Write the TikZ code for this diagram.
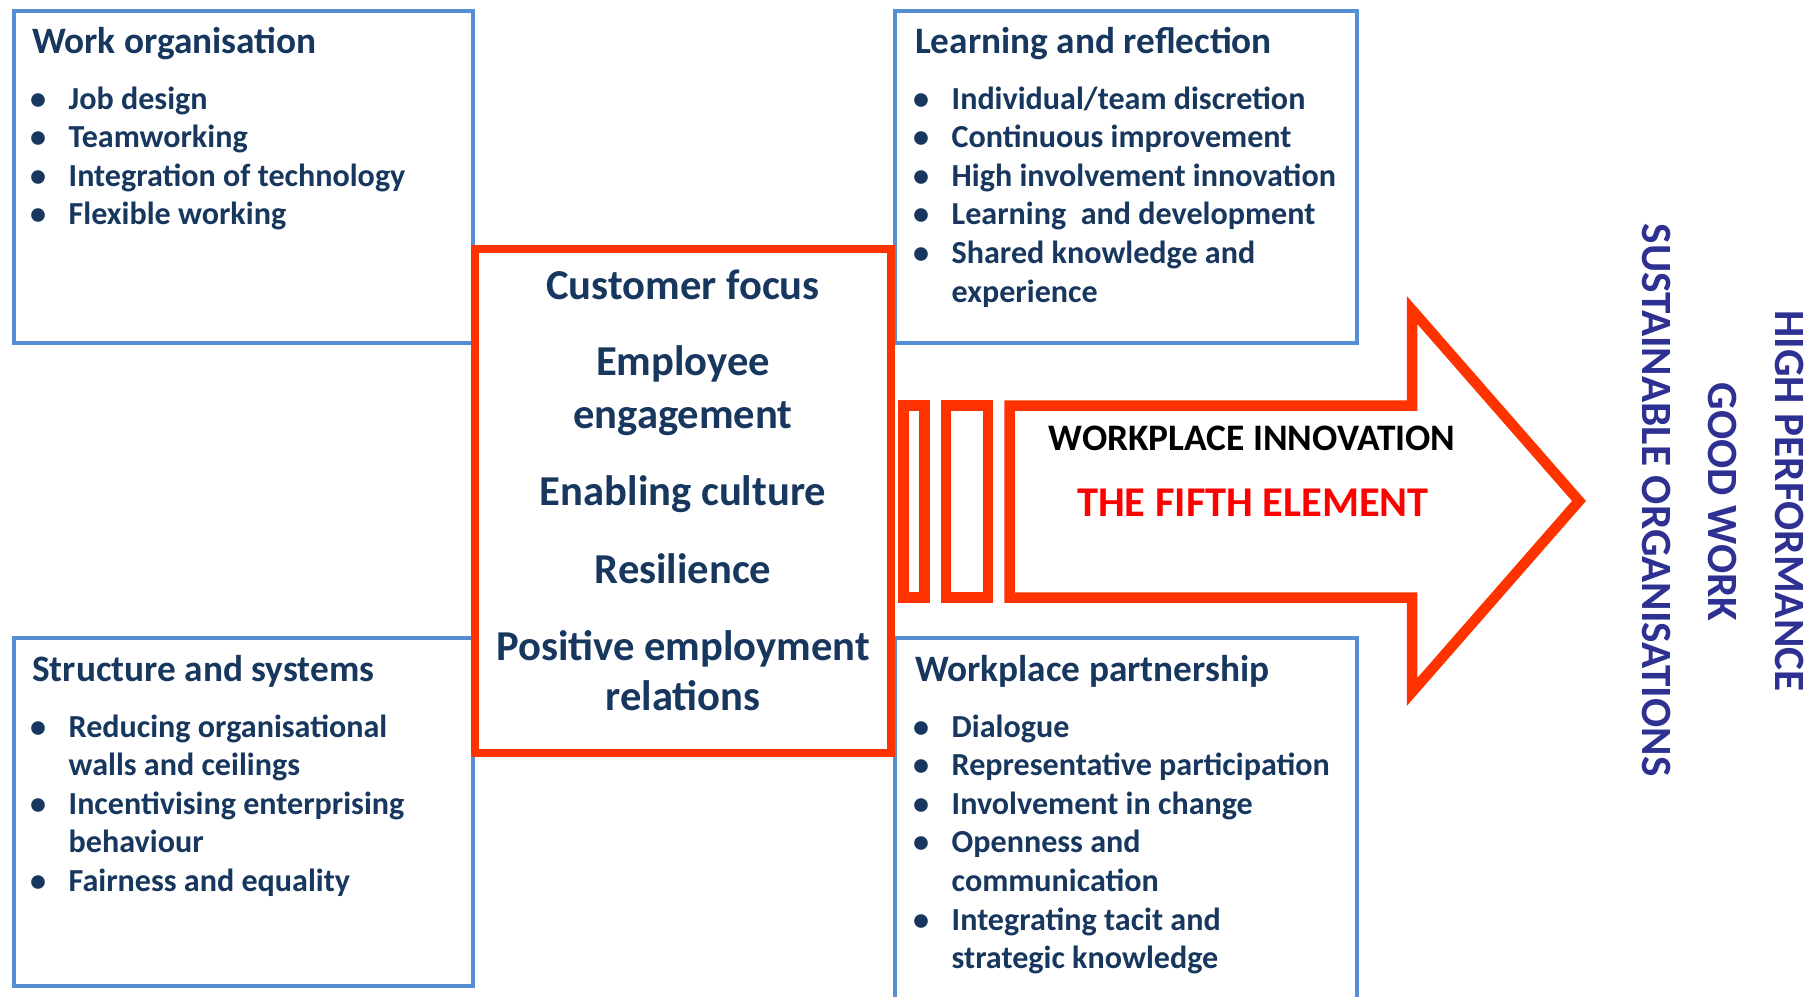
\documentclass[tikz,border=0pt]{standalone}
\usepackage{fontspec}
\setmainfont{Carlito}
\usepackage{xcolor}
\definecolor{navytext}{HTML}{17375E}
\definecolor{panelblue}{HTML}{558ED5}
\definecolor{arrowred}{HTML}{FF3300}
\definecolor{outcomeblue}{HTML}{2E3192}
\usetikzlibrary{positioning}
\newcommand{\bul}{\makebox[38.5pt][l]{\textbullet}}
\tikzset{
	panel/.style={draw=panelblue, line width=3.5pt},
	corebox/.style={draw=arrowred, line width=8pt},
	arrowline/.style={draw=arrowred, line width=10.5pt, line join=miter},
	paneltitle/.style={anchor=base west, inner sep=0pt, text=navytext, font=\fontsize{37.3}{44}\selectfont\bfseries},
	panellist/.style={anchor=base west, inner sep=0pt, text=navytext, font=\fontsize{32.1}{38.6}\selectfont\bfseries},
	coretext/.style={anchor=base, inner sep=0pt, text=navytext, font=\fontsize{42.6}{52}\selectfont\bfseries},
	outcome/.style={inner sep=0pt, rotate=-90, text=outcomeblue, font=\fontsize{43.2}{50}\selectfont\bfseries}
}

\begin{document}
\begin{tikzpicture}[x=1pt, y=-1pt]
				\useasboundingbox (0,0) rectangle (1807,996);
				\clip (0,0) rectangle (1807,996);
				\fill[white] (0,0) rectangle (1807,996);
				\draw[panel] (14,11) rectangle (473,343);
				\draw[panel] (14,638) rectangle (473,986);
				\draw[panel] (895,11) rectangle (1357,343);
				\draw[panel] (895,638) rectangle (1357,1010);
				\draw[corebox, fill=white] (475,249) rectangle (891,753);
				\node[paneltitle] (worktitle) at (32,53) {Work organisation};
				\node[panellist] (worklist) at (30,109) {\begin{tabular}[t]{@{}l@{}l@{}}
					\bul & Job design\\
					\bul & Teamworking\\
					\bul & Integration of technology\\
					\bul & Flexible working
				\end{tabular}};
				\node[paneltitle] (structtitle) at (32,681) {Structure and systems};
				\node[panellist] (structlist) at (30,737) {\begin{tabular}[t]{@{}l@{}l@{}}
					\bul & Reducing organisational\\
					& walls and ceilings\\
					\bul & Incentivising enterprising\\
					& behaviour\\
					\bul & Fairness and equality
				\end{tabular}};
				\node[paneltitle] (learntitle) at (915,53) {Learning and reflection};
				\node[panellist] (learnlist) at (913,109) {\begin{tabular}[t]{@{}l@{}l@{}}
					\bul & Individual/team discretion\\
					\bul & Continuous improvement\\
					\bul & High involvement innovation\\
					\bul & Learning~ and development\\
					\bul & Shared knowledge and\\
					& experience
				\end{tabular}};
				\node[paneltitle] (parttitle) at (915,681) {Workplace partnership};
				\node[panellist] (partlist) at (913,737) {\begin{tabular}[t]{@{}l@{}l@{}}
					\bul & Dialogue\\
					\bul & Representative participation\\
					\bul & Involvement in change\\
					\bul & Openness and\\
					& communication\\
					\bul & Integrating tacit and\\
					& strategic knowledge
				\end{tabular}};
				\node[coretext] (customer) at (683,299) {Customer focus};
				\node[coretext] (employee) at (683,375) {Employee};
				\node[coretext] (engagement) at (683,428) {engagement};
				\node[coretext] (culture) at (683,505) {Enabling culture};
				\node[coretext] (resilience) at (683,583) {Resilience};
				\node[coretext] (positive) at (683,660) {Positive employment};
				\node[coretext] (relations) at (683,710) {relations};
				\draw[arrowline] (903.5,405.5) rectangle (924.5,597.5);
				\draw[arrowline] (946,405.5) rectangle (988,597.5);
				\draw[arrowline] (1009.5,405.5) -- (1412,405.5) -- (1412,310) -- (1579,501)
					-- (1412,692) -- (1412,597.5) -- (1009.5,597.5) -- cycle;
				\node[anchor=base, inner sep=0pt, font=\fontsize{37.4}{44}\selectfont\bfseries] (innovation) at (1252,450) {WORKPLACE INNOVATION};
				\node[anchor=base, inner sep=0pt, text=red, font=\fontsize{42.4}{48}\selectfont\bfseries] (fifth) at (1253,516) {THE FIFTH ELEMENT};
				\node[outcome] (sustainable) at (1656,500) {SUSTAINABLE ORGANISATIONS};
				\node[outcome] (goodwork) at (1722,502) {GOOD WORK};
				\node[outcome] (highperf) at (1789,501) {HIGH PERFORMANCE};
			\end{tikzpicture}
\end{document}
